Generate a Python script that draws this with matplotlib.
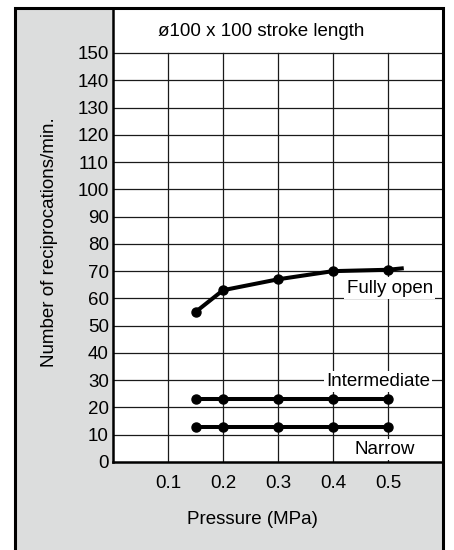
import matplotlib.pyplot as plt
from matplotlib.patches import Rectangle

plt.rcParams['font.family'] = ['Liberation Sans', 'DejaVu Sans']

pressure = [0.15, 0.2, 0.3, 0.4, 0.5]
fully_open = [55, 63, 67, 70, 70.5]
fully_open_tail = [0.525, 71]
intermediate = [23, 23, 23, 23, 23]
narrow = [13, 13, 13, 13, 13]

xticks = [0.1, 0.2, 0.3, 0.4, 0.5]
yticks = list(range(0, 151, 10))

FS = 13.5
W, H = 454, 550
fig = plt.figure(figsize=(W / 100, H / 100), dpi=100)
fig.patch.set_facecolor('white')

# grey panel + outer frame
fig.add_artist(Rectangle((15 / W, -0.02), (443 - 15) / W, (550 - 8) / H + 0.02,
                         transform=fig.transFigure, facecolor='#dcdddd',
                         edgecolor='none', zorder=-5))
fig.add_artist(Rectangle((15 / W, -0.02), (443 - 15) / W, (550 - 8) / H + 0.02,
                         transform=fig.transFigure, facecolor='none',
                         edgecolor='black', lw=2.2, zorder=10))

ax = fig.add_axes([113 / W, (550 - 462) / H, (443 - 113) / W, (462 - 8) / H])
ax.set_facecolor('white')
ax.set_xlim(0, 0.6)
ax.set_ylim(0, 166.5)

for y in yticks[1:]:
    ax.plot([0, 0.6], [y, y], color='#1a1a1a', lw=0.9, zorder=1)
for x in xticks:
    ax.plot([x, x], [0, 150], color='#1a1a1a', lw=0.9, zorder=1)

ax.plot(pressure + [fully_open_tail[0]], fully_open + [fully_open_tail[1]],
        color='black', lw=2.9, marker='o', ms=6.5, markevery=list(range(5)), zorder=3)
ax.plot(pressure, intermediate, color='black', lw=2.9, marker='o', ms=6.5, zorder=3)
ax.plot(pressure, narrow, color='black', lw=2.9, marker='o', ms=6.5, zorder=3)

box = dict(facecolor='white', edgecolor='none', pad=1.5)
ax.text(0.503, 63.8, 'Fully open', fontsize=FS, ha='center', va='center', bbox=box, zorder=4)
ax.text(0.482, 29.6, 'Intermediate', fontsize=FS, ha='center', va='center', bbox=box, zorder=4)
ax.text(0.494, 4.6, 'Narrow', fontsize=FS, ha='center', va='center', bbox=box, zorder=4)
ax.text(0.27, 157.7, 'ø100 x 100 stroke length', fontsize=FS, ha='center', va='center')

ax.set_xticks(xticks)
ax.set_xticklabels([f'{x:.1f}' for x in xticks])
ax.set_yticks(yticks)
ax.tick_params(axis='both', length=0, labelsize=FS)
ax.tick_params(axis='x', pad=9)
ax.tick_params(axis='y', pad=3)

for s in ['top', 'right']:
    ax.spines[s].set_visible(False)
for s in ['left', 'bottom']:
    ax.spines[s].set_linewidth(1.8)
    ax.spines[s].set_zorder(5)

fig.text(50 / W, 1 - 242 / H, 'Number of reciprocations/min.', rotation=90,
         fontsize=FS, ha='center', va='center')
fig.text(252 / W, 1 - 520 / H, 'Pressure (MPa)', fontsize=FS, ha='center', va='center')

fig.savefig('out.png', dpi=100)
